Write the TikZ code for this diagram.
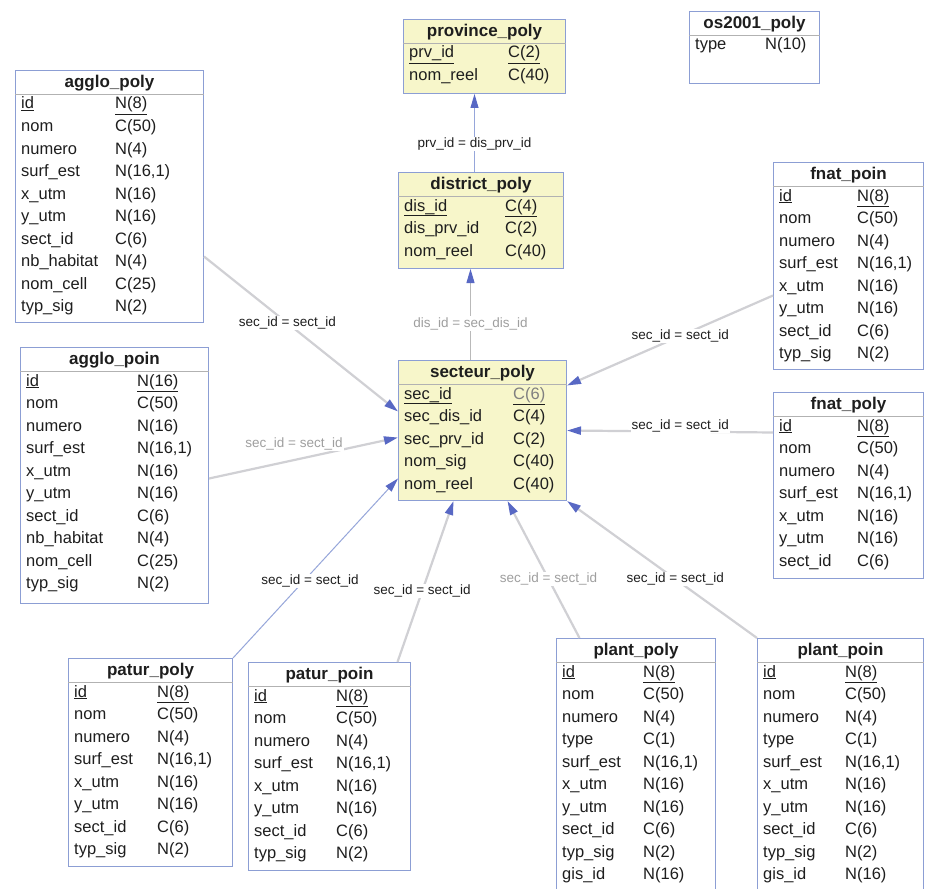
\documentclass[tikz,border=0pt]{standalone}
\usepackage{fontspec}
\setmainfont{Liberation Sans}
\usetikzlibrary{positioning,arrows.meta}

\definecolor{tableyellow}{RGB}{247,246,202}
\definecolor{tableborder}{RGB}{140,158,212}
\definecolor{arrowblue}{RGB}{88,104,196}
\definecolor{linkgray}{RGB}{208,208,212}
\definecolor{linkblue}{RGB}{150,166,218}
\definecolor{textdark}{RGB}{30,30,30}

% table: name, fill style, top left, width, height, title, type column, rows
\newcommand{\dbtable}[8]{%
	\node[tablebox,#2,minimum width=#4pt,minimum height=#5pt,anchor=north west] (#1) at (#3) {};
	\node[tabletitle] at ([yshift=-13pt]#1.north) {#6};
	\draw[titlerule] ([yshift=-24pt]#1.north west) -- ([yshift=-24pt]#1.north east);
	\foreach \fname/\ftype [count=\i from 0] in {#8} {
		\node[fieldtext] at ([xshift=6pt,yshift={-(35+22.5*\i)*1pt}]#1.north west) {\fname};
		\node[fieldtext] at ([xshift=#7pt,yshift={-(35+22.5*\i)*1pt}]#1.north west) {\ftype};
	}%
}

\begin{document}
\begin{tikzpicture}[
		x=1pt,y=-1pt,
		tablebox/.style={draw=tableborder,line width=1pt,fill=white,inner sep=0pt},
		yellowbox/.style={fill=tableyellow},
		tabletitle/.style={font=\fontsize{17}{19}\selectfont\bfseries,text=textdark,inner sep=0pt},
		titlerule/.style={draw=gray!60,line width=0.8pt},
		fieldtext/.style={font=\fontsize{16.5}{18}\selectfont,text=textdark,anchor=west,inner sep=0pt,text height=11.5pt,text depth=3.5pt},
		link/.style={draw=linkgray,line width=2.2pt,-{Triangle[length=14pt,width=8pt,color=arrowblue]}},
		thinlink/.style={draw=linkblue,line width=1pt,-{Triangle[length=14pt,width=8pt,color=arrowblue]}},
		linklabel/.style={font=\fontsize{13.5}{15}\selectfont,text=textdark,fill=white,inner sep=1pt},
		faded/.style={text=gray!75}
	]
	\path[use as bounding box,fill=white] (0,0) rectangle (925,888);

	% Reference tables in the middle column.
	\dbtable{province}{yellowbox}{403,19}{162}{74}{province\_poly}{105}
		{\underline{prv\_id}/\underline{C(2)}, nom\_reel/C(40)}
	\dbtable{district}{yellowbox}{398,172}{165}{96}{district\_poly}{107}
		{\underline{dis\_id}/\underline{C(4)}, dis\_prv\_id/C(2), nom\_reel/C(40)}
	\dbtable{secteur}{yellowbox}{398,360}{168}{140}{secteur\_poly}{115}
		{\underline{sec\_id}/\underline{\textcolor{gray}{C(6)}}, sec\_dis\_id/C(4), sec\_prv\_id/C(2), nom\_sig/C(40), nom\_reel/C(40)}
	\dbtable{osdeuxmille}{}{689,11}{130}{72}{os2001\_poly}{76}
		{type/N(10)}

	% Left column.
	\dbtable{agglopoly}{}{15,70}{188}{252}{agglo\_poly}{100}
		{\underline{id}/\underline{N(8)}, nom/C(50), numero/N(4), surf\_est/{N(16,1)}, x\_utm/N(16), y\_utm/N(16), sect\_id/C(6), nb\_habitat/N(4), nom\_cell/C(25), typ\_sig/N(2)}
	\dbtable{agglopoin}{}{20,347}{188}{256}{agglo\_poin}{117}
		{\underline{id}/\underline{N(16)}, nom/C(50), numero/N(16), surf\_est/{N(16,1)}, x\_utm/N(16), y\_utm/N(16), sect\_id/C(6), nb\_habitat/N(4), nom\_cell/C(25), typ\_sig/N(2)}

	% Right column.
	\dbtable{fnatpoin}{}{773,162}{150}{207}{fnat\_poin}{84}
		{\underline{id}/\underline{N(8)}, nom/C(50), numero/N(4), surf\_est/{N(16,1)}, x\_utm/N(16), y\_utm/N(16), sect\_id/C(6), typ\_sig/N(2)}
	\dbtable{fnatpoly}{}{773,392}{150}{186}{fnat\_poly}{84}
		{\underline{id}/\underline{N(8)}, nom/C(50), numero/N(4), surf\_est/{N(16,1)}, x\_utm/N(16), y\_utm/N(16), sect\_id/C(6)}

	% Bottom row.
	\dbtable{paturpoly}{}{68,658}{164}{208}{patur\_poly}{89}
		{\underline{id}/\underline{N(8)}, nom/C(50), numero/N(4), surf\_est/{N(16,1)}, x\_utm/N(16), y\_utm/N(16), sect\_id/C(6), typ\_sig/N(2)}
	\dbtable{paturpoin}{}{248,662}{162}{208}{patur\_poin}{88}
		{\underline{id}/\underline{N(8)}, nom/C(50), numero/N(4), surf\_est/{N(16,1)}, x\_utm/N(16), y\_utm/N(16), sect\_id/C(6), typ\_sig/N(2)}
	\dbtable{plantpoly}{}{556,638}{159}{257}{plant\_poly}{87}
		{\underline{id}/\underline{N(8)}, nom/C(50), numero/N(4), type/C(1), surf\_est/{N(16,1)}, x\_utm/N(16), y\_utm/N(16), sect\_id/C(6), typ\_sig/N(2), gis\_id/N(16)}
	\dbtable{plantpoin}{}{757,638}{166}{257}{plant\_poin}{88}
		{\underline{id}/\underline{N(8)}, nom/C(50), numero/N(4), type/C(1), surf\_est/{N(16,1)}, x\_utm/N(16), y\_utm/N(16), sect\_id/C(6), typ\_sig/N(2), gis\_id/N(16)}

	% Foreign keys.
	\draw[thinlink] ([xshift=-6.5pt]district.north) -- node[linklabel,pos=0.36] {prv\_id = dis\_prv\_id} ([xshift=-10pt]province.south);
	\draw[thinlink,draw=gray!55] ([xshift=-12pt]secteur.north) -- node[linklabel,faded,pos=0.4] {dis\_id = sec\_dis\_id} ([xshift=-10.5pt]district.south);
	\draw[link] ([yshift=-60pt]agglopoly.east) -- node[linklabel,pos=0.43] {sec\_id = sect\_id} ([yshift=19pt]secteur.west);
	\draw[link] ([yshift=-3pt]agglopoin.east) -- node[linklabel,faded,pos=0.45,yshift=16pt] {sec\_id = sect\_id} ([yshift=-7pt]secteur.west);
	\draw[link] ([yshift=-29.5pt]fnatpoin.west) -- node[linklabel,pos=0.45] {sec\_id = sect\_id} ([yshift=45pt]secteur.east);
	\draw[link] ([yshift=53pt]fnatpoly.west) -- node[linklabel,pos=0.45,yshift=6pt] {sec\_id = sect\_id} (secteur.east);
	\draw[thinlink] (paturpoly.north east) -- node[linklabel,pos=0.43,xshift=6pt] {sec\_id = sect\_id} ([yshift=-48pt]secteur.west);
	\draw[link] ([xshift=68pt]paturpoin.north) -- node[linklabel,pos=0.44] {sec\_id = sect\_id} ([xshift=-29pt]secteur.south);
	\draw[link] ([xshift=-56.5pt]plantpoly.north) -- node[linklabel,faded,pos=0.43] {sec\_id = sect\_id} ([xshift=25pt]secteur.south);
	\draw[link] (plantpoin.north west) -- node[linklabel,pos=0.43] {sec\_id = sect\_id} (secteur.south east);
\end{tikzpicture}
\end{document}
